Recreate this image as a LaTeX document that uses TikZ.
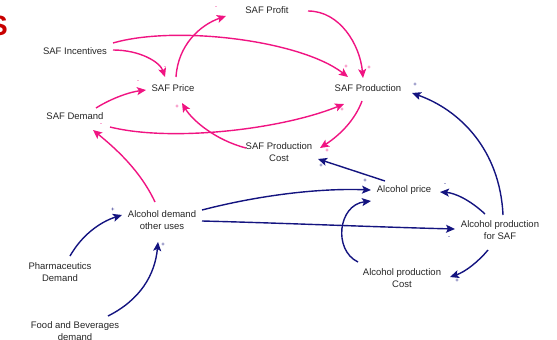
\documentclass[tikz,border=0pt]{standalone}
\usepackage{fontspec}
\setmainfont{Liberation Sans}
\usetikzlibrary{arrows.meta,calc}
\definecolor{cpink}{RGB}{240,20,130}
\definecolor{cblue}{RGB}{20,20,128}
\definecolor{cred}{RGB}{200,0,0}
\begin{document}
\begin{tikzpicture}[x=1pt,y=-1pt,
  var/.style={inner sep=1pt,align=center,font=\fontsize{9.5}{11.5}\selectfont,text=black!85},
  pl/.style={cpink,line width=1.4pt,-{Stealth[length=9pt,width=8pt,inset=2pt]}},
  bl/.style={cblue,line width=1.4pt,-{Stealth[length=9pt,width=8pt,inset=2pt]}},
  sgp/.style={inner sep=0pt,font=\fontsize{6}{6}\selectfont,text=cpink},
  sgb/.style={inner sep=0pt,font=\fontsize{6}{6}\selectfont,text=cblue}]
\useasboundingbox (0,0) rectangle (557,340);
\begin{scope}
\clip (0,0) rectangle (557,340);
\node[anchor=base west,inner sep=0pt,font=\fontsize{28}{28}\selectfont\bfseries,text=cred] (title) at (-11,35) {S};
\end{scope}
% variables
\node[var] (profit) at (267,10) {SAF Profit};
\node[var] (inc) at (75,51) {SAF Incentives};
\node[var] (price) at (173,88) {SAF Price};
\node[var] (prod) at (368,88) {SAF Production};
\node[var] (demand) at (75,116) {SAF Demand};
\node[var] (cost) at (279,152) {SAF Production\\Cost};
\node[var] (alcp) at (404,190) {Alcohol price};
\node[var] (alcd) at (162,220) {Alcohol demand\\other uses};
\node[var] (alcsaf) at (500,230) {Alcohol production\\for SAF};
\node[var] (pharma) at (60,272) {Pharmaceutics\\Demand};
\node[var] (alcc) at (402,278) {Alcohol production\\Cost};
\node[var] (food) at (75,331) {Food and Beverages\\demand};
% pink links
\draw[pl] ($(inc)+(38,-1)$) .. controls +(27,0) and +(-5,-15) .. ($(price)+(-8,-11)$);
\draw[pl] ($(inc)+(38,-8)$) .. controls +(62,-18) and +(-48,-37) .. ($(prod)+(-20,-11)$);
\draw[pl] ($(price)+(3,-11)$) .. controls +(2,-32) and +(-26,9) .. ($(profit)+(-41,6)$);
\draw[pl] ($(profit)+(41,1)$) .. controls +(32,0) and +(-3,-33) .. ($(prod)+(-5,-10)$);
\draw[pl] ($(demand)+(21,-8)$) .. controls +(16,-10) and +(-16,2) .. ($(price)+(-27,2)$);
\draw[pl] ($(demand)+(35,11)$) .. controls +(60,15) and +(-64,26) .. ($(prod)+(-24,16)$);
\draw[pl] ($(prod)+(-6,13)$) .. controls +(-7,19) and +(20,-13) .. ($(cost)+(41,-4)$);
\draw[pl] ($(cost)+(-33,-4)$) .. controls +(-31,-8) and +(10,17) .. ($(price)+(9,15)$);
\draw[pl] ($(alcd)+(-7,-18)$) .. controls +(-15,-32) and +(22,18) .. ($(demand)+(18,14)$);
% blue links
\draw[bl] ($(alcp)+(-19,-9)$) -- ($(cost)+(39,7)$);
\draw[bl] ($(alcsaf)+(3,-15)$) .. controls +(-3,-65) and +(48,17) .. ($(prod)+(44,5)$);
\draw[bl] ($(alcsaf)+(-15,-16)$) .. controls +(-15,-14) and +(15,1) .. ($(alcp)+(36,2)$);
\draw[bl] ($(alcsaf)+(-12,20)$) .. controls +(-10,12) and +(15,-5) .. ($(alcc)+(48,-1)$);
\draw[bl] ($(alcc)+(-44,-16)$) .. controls +(-25,-12) and +(-33,4) .. ($(alcp)+(-33,11)$);
\draw[bl] ($(alcd)+(40,-10)$) .. controls +(58,-15) and +(-51,-2) .. ($(alcp)+(-33,0)$);
\draw[bl] ($(alcd)+(40,1)$) .. controls +(80,2) and +(-80,-2) .. ($(alcsaf)+(-45,-1)$);
\draw[bl] ($(pharma)+(10,-16)$) .. controls +(12,-21) and +(-22,7) .. ($(alcd)+(-40,-5)$);
\draw[bl] ($(food)+(33,-15)$) .. controls +(32,-16) and +(-3,33) .. ($(alcd)+(-4,22)$);
% polarity signs
\node[sgp] (s1) at (165,68) {-};
\node[sgp] (s2) at (346,67) {+};
\node[sgp] (s3) at (216,8) {-};
\node[sgp] (s4) at (369,68) {+};
\node[sgp] (s5) at (138,82) {-};
\node[sgp] (s6) at (342,110) {+};
\node[sgp] (s7) at (327,151) {+};
\node[sgp] (s8) at (177,107) {+};
\node[sgp] (s9) at (101,125) {-};
\node[sgb] (s10) at (321,166) {+};
\node[sgb] (s11) at (415,85) {+};
\node[sgb] (s12) at (445,185) {-};
\node[sgb] (s13) at (457,281) {+};
\node[sgb] (s15) at (365,181) {+};
\node[sgb] (s16) at (449,238) {-};
\node[sgb] (s17) at (113,210) {+};
\node[sgb] (s18) at (163,245) {+};
\end{tikzpicture}
\end{document}
